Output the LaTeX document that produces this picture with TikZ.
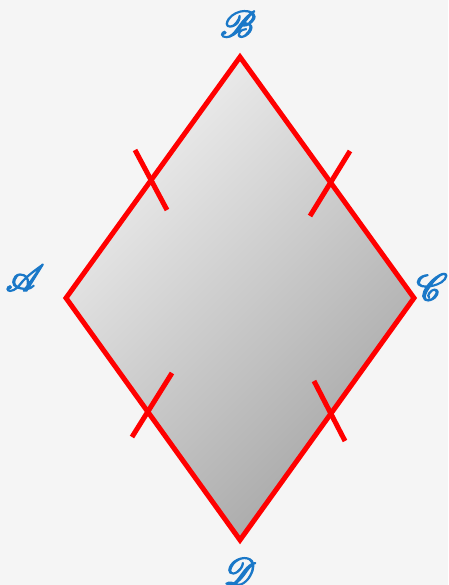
\documentclass[tikz,border=0pt]{standalone}
\usepackage{mathrsfs}
\usepackage{graphicx}
\definecolor{bgc}{HTML}{F5F5F5}
\definecolor{lblue}{HTML}{1A78C8}
\newcommand{\boldstroke}[1]{\scalebox{1.5}{\special{pdf:literal direct 2 Tr 0.9 w}$\mathscr{#1}$\special{pdf:literal direct 0 Tr}}}
\tikzset{
  side/.style={draw=red, line width=5pt, line join=miter},
  tick/.style={draw=red, line width=5pt},
  lbl/.style={text=lblue, font=\fontsize{24.88}{28}\selectfont, inner sep=0pt}
}
\begin{document}
\begin{tikzpicture}[x=1pt,y=-1pt]
\fill[bgc] (0,0) rectangle (448,585);
\useasboundingbox (0,0) rectangle (448,585);
\coordinate (A) at (66,298);
\coordinate (B) at (240,57);
\coordinate (C) at (414,298);
\coordinate (D) at (240,540);
\shade[top color=gray!12, bottom color=gray!70, shading angle=45] (A) -- (B) -- (C) -- (D) -- cycle;
\draw[side] (A) -- (B) -- (C) -- (D) -- cycle;
\coordinate (t1a) at (135,150); \coordinate (t1b) at (167,210);
\coordinate (t2a) at (350,151); \coordinate (t2b) at (310,216);
\coordinate (t3a) at (314,381); \coordinate (t3b) at (345,441);
\coordinate (t4a) at (172,373); \coordinate (t4b) at (132,437);
\draw[tick] (t1a) -- (t1b);
\draw[tick] (t2a) -- (t2b);
\draw[tick] (t3a) -- (t3b);
\draw[tick] (t4a) -- (t4b);
\node[lbl] (lB) at (238,24) {\boldstroke{B}};
\node[lbl] (lA) at (25,278) {\boldstroke{A}};
\node[lbl] (lC) at (432,287) {\boldstroke{C}};
\node[lbl] (lD) at (240,571) {\boldstroke{D}};
\end{tikzpicture}
\end{document}
